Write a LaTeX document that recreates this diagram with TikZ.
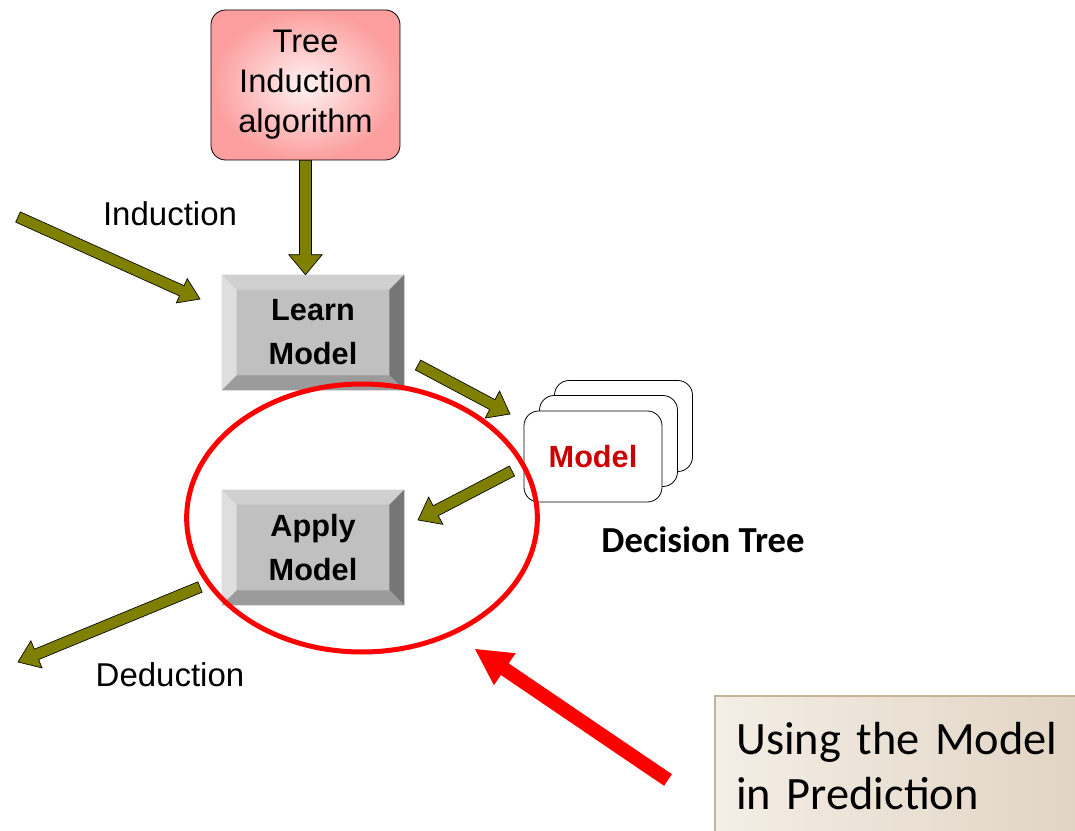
\documentclass[tikz,border=0pt]{standalone}
\usepackage{fontspec}
\setmainfont{Liberation Sans}
\newfontfamily\calibri{Carlito}
\usepackage{xcolor}
\usepackage{tikz}
\usetikzlibrary{calc}

\definecolor{arrowolive}{RGB}{128,128,0}
\definecolor{ringred}{RGB}{255,0,0}
\definecolor{modelred}{RGB}{204,0,0}
\definecolor{algoinner}{RGB}{255,242,242}
\definecolor{algoouter}{RGB}{252,158,158}
\definecolor{btnface}{RGB}{192,192,192}
\definecolor{bevtopc}{RGB}{208,208,208}
\definecolor{bevleftc}{RGB}{222,222,222}
\definecolor{bevrightc}{RGB}{118,118,118}
\definecolor{bevbottomc}{RGB}{155,155,155}
\definecolor{noteleft}{RGB}{244,238,230}
\definecolor{noteright}{RGB}{224,211,194}
\definecolor{noteedge}{RGB}{198,178,148}

% bevel round a button node
\newcommand{\bevel}[1]{%
  \fill[bevtopc] (#1.north west) -- (#1.north east) -- ($(#1.north east)+(-15,15)$) -- ($(#1.north west)+(15,15)$) -- cycle;
  \fill[bevleftc] (#1.north west) -- ($(#1.north west)+(15,15)$) -- ($(#1.south west)+(15,-15)$) -- (#1.south west) -- cycle;
  \fill[bevrightc] (#1.north east) -- ($(#1.north east)+(-15,15)$) -- ($(#1.south east)+(-15,-15)$) -- (#1.south east) -- cycle;
  \fill[bevbottomc] (#1.south west) -- ($(#1.south west)+(15,-15)$) -- ($(#1.south east)+(-15,-15)$) -- (#1.south east) -- cycle;
}
% block arrow: style, tail, tip, half shaft, half head, head length
\newcommand{\blockarrow}[6]{%
  \coordinate (ahb) at ($(#3)!#6!(#2)$);
  \draw[#1] ($(#2)!#4!90:(#3)$) -- ($(ahb)!#4!90:(#3)$) -- ($(ahb)!#5!90:(#3)$) -- (#3)
    -- ($(ahb)!#5!-90:(#3)$) -- ($(ahb)!#4!-90:(#3)$) -- ($(#2)!#4!-90:(#3)$) -- cycle;
}

\begin{document}
\begin{tikzpicture}[x=0.75pt,y=0.75pt,yscale=-1,xscale=1,
  algobox/.style={draw=black,line width=0.6pt,rounded corners=11pt,inner sep=0pt,minimum width=141.75pt,minimum height=112.5pt,inner color=algoinner,outer color=algoouter,align=center,font=\fontsize{24.5}{30}\selectfont},
  button/.style={fill=btnface,inner sep=0pt,minimum width=136.5pt,minimum height=86.25pt,align=center,font=\fontsize{23}{33}\selectfont\bfseries},
  card/.style={draw=black,line width=0.6pt,fill=white,rounded corners=11pt,inner sep=0pt,minimum width=103.5pt,minimum height=68.25pt},
  olivearrow/.style={fill=arrowolive,draw=black,line width=0.5pt,line join=miter},
  redarrow/.style={fill=ringred,draw=none},
  label/.style={inner sep=0pt,font=\fontsize{24.75}{30}\selectfont},
  notebox/.style={draw=noteedge,line width=1.5pt,left color=noteleft,right color=noteright,anchor=north west,inner xsep=16pt,inner ysep=0pt,text width=250pt,minimum height=105pt,align=left,font=\calibri\fontsize{34.8}{41.25}\selectfont}]
\useasboundingbox (0,0) rectangle (1075,831);

% Tree Induction algorithm
\node[algobox] (algo) at (305.5,85) {Tree\\Induction\\algorithm};

% Buttons
\node[button] (learn) at (313,332.5) {Learn\\Model};
\bevel{learn}
\node[button] (apply) at (313,547.5) {Apply\\Model};
\bevel{apply}

% Stack of model cards
\node[card] (card3) at (623.5,426) {};
\node[card] (card2) at (608.5,441) {};
\node[card,font=\fontsize{23}{27}\selectfont\bfseries,text=modelred] (model) at (593,456.5) {Model};

% Text Node
\node[label] (induction) at (170,214) {Induction};
% Text Node
\node[label] (deduction) at (170,675) {Deduction};
% Text Node
\node[inner sep=0pt,font=\calibri\bfseries\fontsize{27.5}{33}\selectfont] (dtree) at (703,540) {Decision Tree};

% Olive arrows
\coordinate (indin) at (18,217);
\coordinate (indtip) at (200,299);
\coordinate (lmout) at (418,365);
\coordinate (lmtip) at (510,414);
\coordinate (maout) at (512,471);
\coordinate (matip) at (418,520);
\coordinate (dedout) at (200,587);
\coordinate (dedtip) at (18,662);
\blockarrow{olivearrow}{indin}{indtip}{4.2pt}{10pt}{15pt}
\blockarrow{olivearrow}{algo.south}{algo.south |- learn.north}{4.5pt}{12.5pt}{15pt}
\blockarrow{olivearrow}{lmout}{lmtip}{4.2pt}{11.5pt}{15pt}
\blockarrow{olivearrow}{maout}{matip}{4.2pt}{11.5pt}{15pt}
\blockarrow{olivearrow}{dedout}{dedtip}{4.2pt}{11pt}{15pt}

% Red ring
\draw[ringred,line width=3.75pt] (362,518) ellipse [x radius=131.5pt,y radius=100.5pt];

% Note box
\node[notebox] (note) at (714,695) {Using the Model\\in Prediction};

% Red arrow
\coordinate (redout) at (668,780);
\coordinate (redtip) at (475,649);
\blockarrow{redarrow}{redout}{redtip}{5.25pt}{14.5pt}{27pt}

\end{tikzpicture}
\end{document}
